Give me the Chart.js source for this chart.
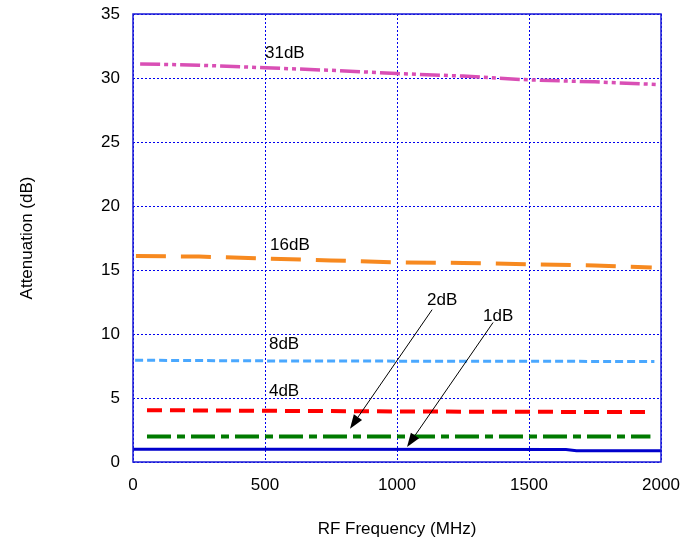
<!DOCTYPE html>
<html>
<head>
<meta charset="utf-8">
<script src="https://cdn.jsdelivr.net/npm/chart.js@4/dist/chart.umd.min.js"></script>
<style>
  html, body { margin: 0; padding: 0; background: #fff; }
</style>
</head>
<body>
<canvas id="attChart" width="697" height="542"></canvas>
<script>
// Attenuation vs RF frequency, one curve per attenuation step
var freq31 = [27, 250, 500, 750, 1000, 1250, 1500, 1750, 1980];
var att31  = [31.1, 31.0, 30.8, 30.6, 30.35, 30.15, 29.85, 29.7, 29.5];
var freq16 = [11, 250, 500, 750, 1000, 1250, 1500, 1750, 1965];
var att16  = [16.1, 16.05, 15.9, 15.75, 15.6, 15.55, 15.45, 15.35, 15.2];
var freq8  = [8, 500, 1000, 1500, 1975];
var att8   = [7.95, 7.9, 7.88, 7.87, 7.85];
var freq4  = [53, 500, 1000, 1500, 1960];
var att4   = [4.05, 4.0, 3.95, 3.92, 3.9];
var freq2  = [53, 1000, 1960];
var att2   = [2.0, 2.0, 2.0];
var freq1  = [0, 600, 1640, 1680, 2000];
var att1   = [1.0, 1.0, 0.97, 0.88, 0.87];

var xTicks = [0, 500, 1000, 1500, 2000];
var yTicks = [0, 5, 10, 15, 20, 25, 30, 35];

// curve labels: text, x, y (data units)
var curveLabels = [
    ['31dB', 500, 31.95],
    ['16dB', 519, 16.9],
    ['8dB', 515, 9.2],
    ['4dB', 515, 5.55],
    ['2dB', 1114, 12.65],
    ['1dB', 1326, 11.4]
];
// arrows: from (x0,y0) to tip (x1,y1)
var arrows = [
    [1133, 11.9, 822, 2.6],
    [1364, 10.9, 1038, 1.17]
];

function pts(xs, ys) {
    return xs.map(function (x, i) { return { x: x, y: ys[i] }; });
}

var FONT = 'Arial, "Liberation Sans", sans-serif';
var GRID = '#0000ee';

var extras = {
    id: 'extras',
    afterDraw: function (chart) {
        var ctx = chart.ctx, xs = chart.scales.x, ys = chart.scales.y, a = chart.chartArea;
        ctx.save();
        // solid frame
        ctx.strokeStyle = '#1a1ad6';
        ctx.lineWidth = 1.5;
        ctx.setLineDash([]);
        ctx.strokeRect(a.left, a.top, a.right - a.left, a.bottom - a.top);

        // labels
        ctx.fillStyle = '#000';
        ctx.font = '17px ' + FONT;
        ctx.textAlign = 'left';
        ctx.textBaseline = 'middle';
        curveLabels.forEach(function (l) {
            ctx.fillText(l[0], xs.getPixelForValue(l[1]), ys.getPixelForValue(l[2]));
        });

        // arrows
        ctx.strokeStyle = '#000';
        ctx.lineWidth = 1;
        arrows.forEach(function (ar) {
            var x0 = xs.getPixelForValue(ar[0]), y0 = ys.getPixelForValue(ar[1]);
            var x1 = xs.getPixelForValue(ar[2]), y1 = ys.getPixelForValue(ar[3]);
            var ang = Math.atan2(y1 - y0, x1 - x0);
            var len = 14, half = 5;
            var bx = x1 - len * Math.cos(ang), by = y1 - len * Math.sin(ang);
            ctx.beginPath();
            ctx.moveTo(x0, y0);
            ctx.lineTo(bx, by);
            ctx.stroke();
            ctx.beginPath();
            ctx.moveTo(x1, y1);
            ctx.lineTo(bx + half * Math.sin(ang), by - half * Math.cos(ang));
            ctx.lineTo(bx - half * Math.sin(ang), by + half * Math.cos(ang));
            ctx.closePath();
            ctx.fillStyle = '#000';
            ctx.fill();
        });
        ctx.restore();
    }
};

function series(xs, ys, color, width, dash) {
    return {
        data: pts(xs, ys),
        borderColor: color,
        backgroundColor: color,
        borderWidth: width,
        borderDash: dash,
        pointRadius: 0,
        tension: 0,
        fill: false
    };
}

var ctx = document.getElementById('attChart').getContext('2d');
var chart = new Chart(ctx, {
    type: 'line',
    data: {
        datasets: [
            series(freq31, att31, '#d94fb5', 3.5, [20, 4, 4, 4, 4, 4]),
            series(freq16, att16, '#f7891f', 4, [30, 15]),
            series(freq8, att8, '#4aa8ff', 3, [8, 4]),
            series(freq4, att4, '#ff0000', 4, [15, 8]),
            series(freq2, att2, '#007a00', 4, [24, 6, 8, 6]),
            series(freq1, att1, '#0000cc', 3, [])
        ]
    },
    options: {
        responsive: false,
        animation: false,
        layout: { padding: { left: 0, right: 36, top: 14, bottom: 0 } },
        plugins: {
            legend: { display: false },
            tooltip: { enabled: false }
        },
        scales: {
            x: {
                type: 'linear',
                min: 0,
                max: 2000,
                afterFit: function (s) { s.height = 80; s.paddingRight = 0; s.paddingLeft = 0; },
                afterBuildTicks: function (s) { s.ticks = xTicks.map(function (v) { return { value: v }; }); },
                grid: { color: GRID, lineWidth: 1, drawTicks: false },
                border: { display: false, dash: [2, 2] },
                ticks: {
                    color: '#000', font: { family: FONT, size: 17 }, padding: 13, maxRotation: 0,
                    callback: function (v) { return String(v); }
                },
                title: {
                    display: true,
                    text: 'RF Frequency (MHz)',
                    color: '#000',
                    font: { family: FONT, size: 17 },
                    padding: { top: 0, bottom: 2 }
                }
            },
            y: {
                min: 0,
                max: 35,
                afterFit: function (s) { s.width = 133; s.paddingTop = 0; s.paddingBottom = 0; },
                afterBuildTicks: function (s) { s.ticks = yTicks.map(function (v) { return { value: v }; }); },
                grid: { color: GRID, lineWidth: 1, drawTicks: false },
                border: { display: false, dash: [2, 2] },
                ticks: {
                    color: '#000', font: { family: FONT, size: 17 }, padding: 13,
                    callback: function (v) { return String(v); }
                },
                title: {
                    display: true,
                    text: 'Attenuation (dB)',
                    color: '#000',
                    font: { family: FONT, size: 17 },
                    padding: { top: 17, bottom: 0 }
                }
            }
        }
    },
    plugins: [extras]
});
</script>
</body>
</html>
